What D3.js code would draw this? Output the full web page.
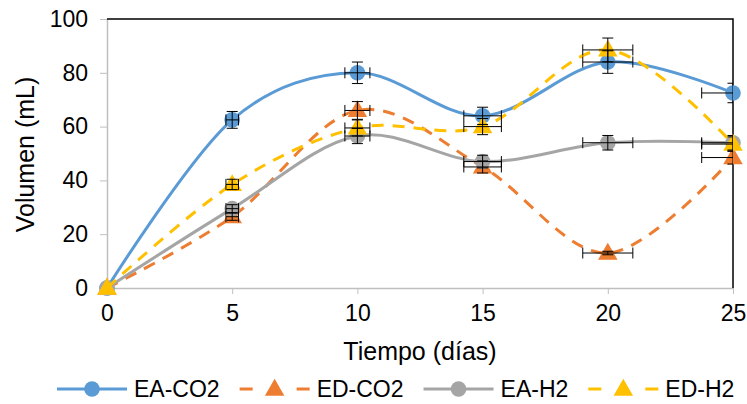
<!DOCTYPE html>
<html>
<head>
<meta charset="utf-8">
<script src="https://cdn.jsdelivr.net/npm/d3@7"></script>
<style>
  body { margin: 0; background: #fff; }
  text { font-family: "Liberation Sans", Arial, sans-serif; fill: #000; }
</style>
</head>
<body>
<div id="chart"></div>
<script>
// data
const days = [0, 5, 10, 15, 20, 25];
const eaCO2 = [0, 62.5, 80, 64, 84, 72.5];
const edCO2 = [0, 26.5, 66, 45, 13, 48.5];
const eaH2 = [0, 29.5, 56.5, 47, 54, 54];
const edH2 = [0, 38.5, 59.5, 60, 88.5, 53.5];
const seriesNames = ['EA-CO2', 'ED-CO2', 'EA-H2', 'ED-H2'];
const xTicks = [0, 5, 10, 15, 20, 25];
const yTicks = [0, 20, 40, 60, 80, 100];
const errorPct = 0.05; // percentage error bars, both directions

const width = 747, height = 404;
const margin = { top: 19, right: 14, bottom: 116, left: 107 };

const series = [
    { name: seriesNames[0], values: eaCO2, color: '#5B9BD5', dash: null, marker: 'circle' },
    { name: seriesNames[1], values: edCO2, color: '#ED7D31', dash: '12,9', marker: 'triangle' },
    { name: seriesNames[2], values: eaH2, color: '#A5A5A5', dash: null, marker: 'circle' },
    { name: seriesNames[3], values: edH2, color: '#FFC000', dash: '12,9', marker: 'triangle' }
];

const svg = d3.select('#chart').append('svg')
    .attr('width', width)
    .attr('height', height);

const x = d3.scaleLinear().domain([0, 25]).range([margin.left, width - margin.right]);
const y = d3.scaleLinear().domain([0, 100]).range([height - margin.bottom, margin.top]);

svg.append('clipPath').attr('id', 'plotClip')
    .append('rect')
    .attr('x', x(0)).attr('y', y(100))
    .attr('width', x(25) - x(0)).attr('height', y(0) - y(100));

// axes
const xAxis = svg.append('g')
    .attr('transform', `translate(0,${y(0)})`)
    .call(d3.axisBottom(x).tickValues(xTicks).tickSize(6).tickSizeOuter(0));
xAxis.select('.domain').attr('stroke', '#BFBFBF').attr('stroke-width', 1.5);
xAxis.selectAll('.tick line').attr('stroke', '#BFBFBF');
xAxis.selectAll('.tick text')
    .attr('y', 25)
    .attr('dy', '0.35em')
    .style('font-size', '23px')
    .style('font-family', '"Liberation Sans", Arial, sans-serif');

const yAxis = svg.append('g')
    .attr('transform', `translate(${x(0)},0)`)
    .call(d3.axisLeft(y).tickValues(yTicks).tickSize(7).tickSizeOuter(0));
yAxis.select('.domain').attr('stroke', '#BFBFBF').attr('stroke-width', 1.5);
yAxis.selectAll('.tick line').attr('stroke', '#BFBFBF');
yAxis.selectAll('.tick text')
    .attr('x', -19)
    .style('font-size', '23px')
    .style('font-family', '"Liberation Sans", Arial, sans-serif');

// black frame on top and right
svg.append('path')
    .attr('d', `M${x(0)},${y(100)}H${x(25)}V${y(0)}`)
    .attr('fill', 'none')
    .attr('stroke', '#000')
    .attr('stroke-width', 1.5);

// axis titles
svg.append('text')
    .attr('x', (x(0) + x(25)) / 2)
    .attr('y', 360)
    .attr('text-anchor', 'middle')
    .style('font-size', '25px')
    .text('Tiempo (días)');

svg.append('text')
    .attr('transform', `translate(34,${(y(0) + y(100)) / 2 + 1}) rotate(-90)`)
    .attr('text-anchor', 'middle')
    .style('font-size', '25px')
    .text('Volumen (mL)');

// smoothed lines like excel
const line = d3.line()
    .x((d, i) => x(days[i]))
    .y(d => y(d))
    .curve(d3.curveCardinal.tension(0));

const triangle = d3.symbol().type(d3.symbolTriangle).size(165);

function drawMarker(sel, s, cx, cy) {
    if (s.marker === 'circle') {
        sel.append('circle').attr('cx', cx).attr('cy', cy).attr('r', 7.8).attr('fill', s.color);
    } else {
        sel.append('path').attr('d', triangle()).attr('transform', `translate(${cx},${cy + 1})`).attr('fill', s.color);
    }
}

series.forEach(s => {
    const g = svg.append('g');
    g.append('path')
        .datum(s.values)
        .attr('d', line)
        .attr('fill', 'none')
        .attr('stroke', s.color)
        .attr('stroke-width', 3)
        .attr('stroke-dasharray', s.dash);
    s.values.forEach((v, i) => drawMarker(g, s, x(days[i]), y(v)));
});

// error bars on top
const errG = svg.append('g').attr('clip-path', 'url(#plotClip)')
    .attr('stroke', '#000').attr('stroke-width', 1).attr('fill', 'none');
const cap = 5.5;
series.forEach(s => {
    s.values.forEach((v, i) => {
        const d = days[i];
        if (v === 0 && d === 0) return;
        const cx = x(d), cy = y(v);
        const y1 = y(v * (1 + errorPct)), y2 = y(v * (1 - errorPct));
        const x1 = x(d * (1 - errorPct)), x2 = x(d * (1 + errorPct));
        errG.append('path').attr('d',
            `M${cx},${y1}V${y2}M${cx - cap},${y1}H${cx + cap}M${cx - cap},${y2}H${cx + cap}` +
            `M${x1},${cy}H${x2}M${x1},${cy - cap}V${cy + cap}M${x2},${cy - cap}V${cy + cap}`);
    });
});

// legend
const legendY = 389;
let lx = 57;
series.forEach(s => {
    const g = svg.append('g');
    const sw = 70;
    g.append('line')
        .attr('x1', lx).attr('x2', lx + sw)
        .attr('y1', legendY).attr('y2', legendY)
        .attr('stroke', s.color)
        .attr('stroke-width', 3)
        .attr('stroke-dasharray', s.dash ? '13,44' : null);
    drawMarker(g, s, lx + sw / 2, legendY);
    const t = g.append('text')
        .attr('x', lx + sw + 7)
        .attr('y', legendY)
        .attr('dy', '0.35em')
        .style('font-size', '23px')
        .text(s.name);
    lx += sw + 7 + t.node().getComputedTextLength() + 20;
});
</script>
</body>
</html>
